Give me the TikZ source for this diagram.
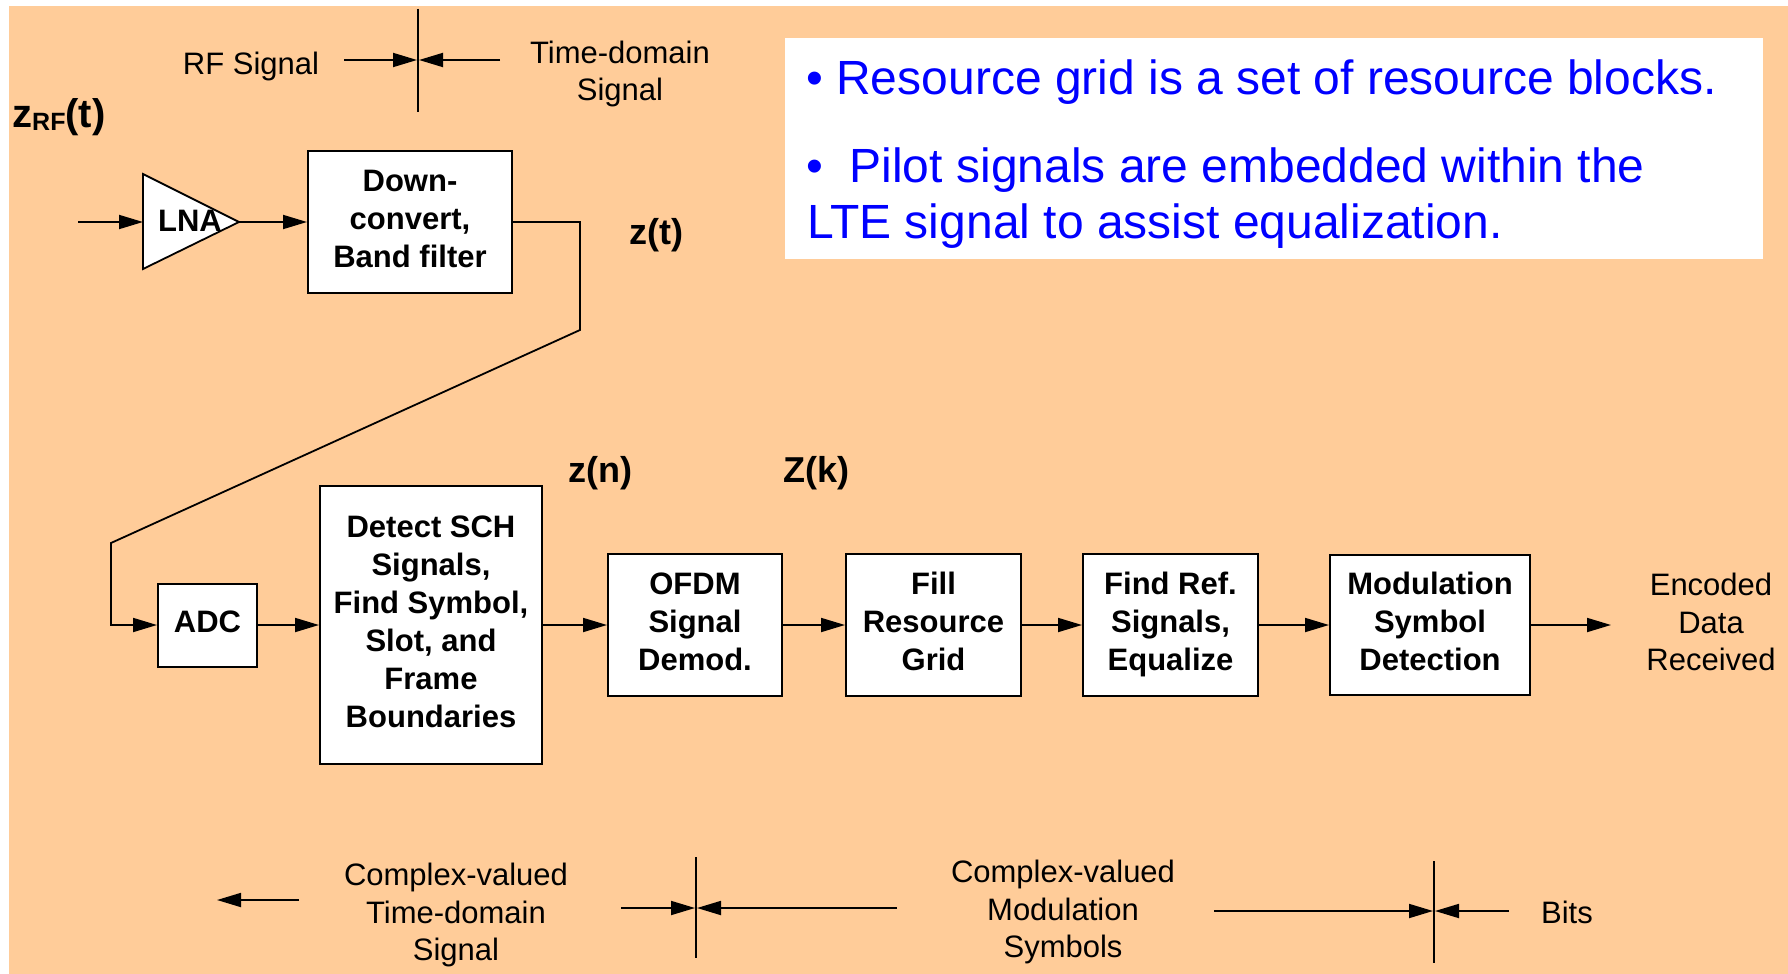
\documentclass[tikz,border=0pt]{standalone}
\usepackage{fontspec}
\setmainfont{Liberation Sans}
\usetikzlibrary{arrows.meta}
\definecolor{peach}{RGB}{255,204,153}
\definecolor{blu}{RGB}{0,0,255}
\tikzset{
  blk/.style={draw, line width=2pt, fill=white, align=center, inner sep=0pt,
    font=\fontsize{31}{38}\selectfont\bfseries,
    execute at end node={\vphantom{g}}},
  lbl/.style={font=\fontsize{31}{37.5}\selectfont, align=center},
  sig/.style={font=\fontsize{36}{40}\selectfont\bfseries},
  arr/.style={line width=1.8pt, -{Triangle[length=24pt,width=14pt]}},
  mark line/.style={line width=1.5pt},
  note/.style={font=\fontsize{48}{56}\selectfont, text=blu, anchor=base west, inner sep=0pt}
}
\begin{document}
\begin{tikzpicture}[x=1pt,y=-1pt]
\useasboundingbox (0,0) rectangle (1788,974);
\fill[white] (0,0) rectangle (1788,974);
\fill[peach] (9,6) rectangle (1788,974);
% notes
\fill[white] (785,38) rectangle (1763,259);
\node[note] (t1) at (806,95) {• Resource grid is a set of resource blocks.};
\node[note] (t2) at (806,182) {•\ \ Pilot signals are embedded within the};
\node[note] (t3) at (807,238) {LTE signal to assist equalization.};
% RF / time-domain marker
\node[lbl] (rf) at (251,66) {RF Signal};
\node[lbl] (td) at (620,74) {Time-domain\\Signal};
\coordinate (m1t) at (418,9);
\coordinate (m1b) at (418,112);
\draw[mark line] (m1t) -- (m1b);
\coordinate (rfa) at (344,60);
\coordinate (rfb) at (500,60);
\draw[arr, shorten >=1pt] (rfa) -- (m1t |- rfa);
\draw[arr, shorten >=1pt] (rfb) -- (m1t |- rfb);
% front end
\node[sig, anchor=base west, inner sep=0pt] (zrf) at (12,127)
  {\fontsize{40}{40}\selectfont z{\fontsize{25}{25}\selectfont\raisebox{-3pt}{RF}}(t)};
\coordinate (in) at (78,222);
\coordinate (lnal) at (143,222);
\coordinate (lnat) at (239,222);
\draw[line width=1.8pt, fill=white] (143,174) -- (lnat) -- (143,269) -- cycle;
\node[font=\fontsize{31}{38}\selectfont\bfseries] (lna) at (190,221) {LNA};
\draw[arr] (in) -- (lnal);
\node[blk, minimum width=204pt, minimum height=142pt] (down) at (410,222)
  {Down-\\convert,\\Band filter};
\draw[arr] (lnat) -- (down);
\node[sig] (zt) at (656,235) {z(t)};
% receiver chain
\node[blk, minimum width=99pt, minimum height=83pt] (adc) at (207.5,625) {ADC};
\node[blk, minimum width=222pt, minimum height=278pt] (det) at (431,625)
  {Detect SCH\\Signals,\\Find Symbol,\\Slot, and\\Frame\\Boundaries};
\node[blk, minimum width=174pt, minimum height=142pt] (ofdm) at (695,625)
  {OFDM\\Signal\\Demod.};
\node[blk, minimum width=175pt, minimum height=142pt] (fill) at (933.5,625)
  {Fill\\Resource\\Grid};
\node[blk, minimum width=175pt, minimum height=142pt] (find) at (1170.5,625)
  {Find Ref.\\Signals,\\Equalize};
\node[blk, minimum width=200pt, minimum height=140pt] (mod) at (1430,625)
  {Modulation\\Symbol\\Detection};
\coordinate (b1) at (580,330);
\coordinate (b2) at (111,543);
\draw[arr] (down.east) -| (b1) -- (b2) |- (adc.west);
\draw[arr] (adc) -- (det);
\draw[arr] (det) -- (ofdm);
\draw[arr] (ofdm) -- (fill);
\draw[arr] (fill) -- (find);
\draw[arr] (find) -- (mod);
\coordinate (out) at (1611,625);
\draw[arr] (mod) -- (out);
\node[lbl] (enc) at (1711,622) {Encoded\\Data\\Received};
\node[sig] (zn) at (600,473) {z(n)};
\node[sig] (zk) at (816,473) {Z(k)};
% bottom markers
\node[lbl] (cts) at (456,915) {Complex-valued\\Time-domain\\Signal};
\coordinate (bl1) at (299,900);
\coordinate (bl0) at (217,900);
\draw[arr] (bl1) -- (bl0);
\coordinate (m2t) at (696,857);
\coordinate (m2b) at (696,958);
\draw[mark line] (m2t) -- (m2b);
\coordinate (ba) at (621,908);
\coordinate (bb) at (897,908);
\draw[arr, shorten >=1pt] (ba) -- (m2t |- ba);
\draw[arr, shorten >=1pt] (bb) -- (m2t |- bb);
\node[lbl] (cms) at (1063,912) {Complex-valued\\Modulation\\Symbols};
\coordinate (m3t) at (1434,861);
\coordinate (m3b) at (1434,963);
\draw[mark line] (m3t) -- (m3b);
\coordinate (bc) at (1214,911);
\coordinate (bd) at (1509,911);
\draw[arr, shorten >=1pt] (bc) -- (m3t |- bc);
\draw[arr, shorten >=1pt] (bd) -- (m3t |- bd);
\node[lbl] (bits) at (1567,912) {Bits};
\end{tikzpicture}
\end{document}
